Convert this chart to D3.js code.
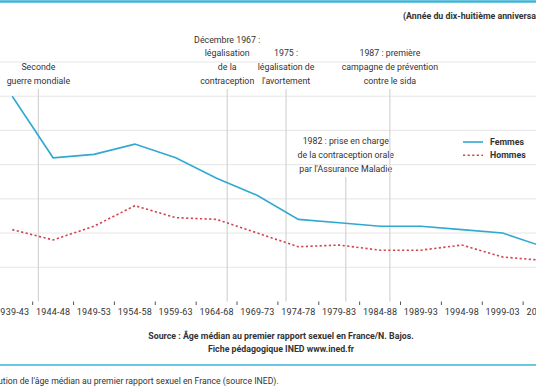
<!DOCTYPE html>
<html>
<head>
<meta charset="utf-8">
<script src="https://cdn.jsdelivr.net/npm/d3@7"></script>
<style>
  body { margin: 0; background: #fff; }
  svg { display: block; font-family: Roboto, "Noto Sans", sans-serif; }
</style>
</head>
<body>
<div id="chart"></div>
<script>
// Age median at first intercourse, France (INED)
// ==============================================
var periods = ["1939-43", "1944-48", "1949-53", "1954-58", "1959-63", "1964-68", "1969-73",
               "1974-78", "1979-83", "1984-88", "1989-93", "1994-98", "1999-03", "2004-08"];
var femmes = [22.0, 20.2, 20.3, 20.6, 20.2, 19.6, 19.1, 18.4, 18.3, 18.2, 18.2, 18.1, 18.0, 17.6];
var hommes = [18.1, 17.8, 18.2, 18.8, 18.45, 18.4, 18.0, 17.6, 17.65, 17.5, 17.5, 17.65, 17.3, 17.2];
var ageTicks = [16, 17, 18, 19, 20, 21, 22, 23];

// events: year (of 18th birthday) + label lines
var eventYears = [1944.2, 1967.3, 1974.5, 1981.8, 1987.2];
var eventLabels = [
  ["Seconde", "guerre mondiale"],
  ["Décembre 1967 :", "légalisation", "de la", "contraception"],
  ["1975 :", "légalisation de", "l'avortement"],
  ["1982 : prise en charge", "de la contraception orale", "par l'Assurance Maladie"],
  ["1987 : première", "campagne de prévention", "contre le sida"]
];
var eventLastLine = [81, 81, 81, 169, 81];

var width = 536, height = 386;
var blue = "#2fa9d2", red = "#d0434f", ink = "#333";

var svg = d3.select("#chart").append("svg")
    .attr("width", width)
    .attr("height", height);

// Scales
var x = d3.scaleBand().domain(periods).range([-8.2, 564]);
var xc = function(p) { return x(p) + x.bandwidth() / 2; };
var xYear = d3.scaleLinear()
    .domain([1941, 1946])
    .range([xc("1939-43"), xc("1944-48")]);
var y = d3.scaleLinear().domain([16, 23]).range([301.5, 62]);

// top & bottom cyan rules
svg.append("line").attr("x1", 0).attr("x2", width).attr("y1", 1.5).attr("y2", 1.5)
    .attr("stroke", "#3db5da").attr("stroke-width", 2.5);
svg.append("line").attr("x1", 0).attr("x2", width).attr("y1", 365).attr("y2", 365)
    .attr("stroke", "#3db5da").attr("stroke-width", 1.5);

// Gridlines
svg.append("g").selectAll("line")
    .data(ageTicks.filter(function(d) { return d > 16; }))
    .join("line")
    .attr("x1", 0).attr("x2", width)
    .attr("y1", function(d) { return y(d); })
    .attr("y2", function(d) { return y(d); })
    .attr("stroke", "#e6e6e6").attr("stroke-width", 1);

// X axis (ticks between bands, no domain line)
var xAxis = svg.append("g")
    .attr("transform", "translate(0," + y(16) + ")")
    .call(d3.axisBottom(x).tickSize(0).tickPadding(7));
xAxis.select(".domain").remove();
xAxis.selectAll("text").attr("font-size", 9).attr("fill", ink)
    .attr("font-family", "Roboto, sans-serif").attr("letter-spacing", 0.2);
svg.append("g").selectAll("line")
    .data(periods.slice(1))
    .join("line")
    .attr("x1", function(d) { return x(d); })
    .attr("x2", function(d) { return x(d); })
    .attr("y1", y(16)).attr("y2", y(16) + 3.5)
    .attr("stroke", "#555").attr("stroke-width", 1);

// Event markers
eventYears.forEach(function(yr, i) {
    var ex = xYear(yr);
    var last = eventLastLine[i];
    svg.append("line")
        .attr("x1", ex).attr("x2", ex)
        .attr("y1", last + 8).attr("y2", y(16))
        .attr("stroke", "#d4d4d4").attr("stroke-width", 1.2);
    var lines = eventLabels[i];
    svg.append("g").selectAll("text")
        .data(lines)
        .join("text")
        .attr("x", ex)
        .attr("y", function(d, j) { return last - (lines.length - 1 - j) * 13.8 + 3; })
        .attr("text-anchor", "middle")
        .attr("font-size", 8.8)
        .attr("fill", ink)
        .text(function(d) { return d; });
});

// Lines
var line = d3.line()
    .x(function(d, i) { return xc(periods[i]); })
    .y(function(d) { return y(d); });

svg.append("path").datum(femmes)
    .attr("d", line)
    .attr("fill", "none").attr("stroke", blue).attr("stroke-width", 1.6);
svg.append("path").datum(hommes)
    .attr("d", line)
    .attr("fill", "none").attr("stroke", red).attr("stroke-width", 1.6)
    .attr("stroke-dasharray", "2.2,2.4");

// Legend
var legend = [["Femmes", blue, null], ["Hommes", red, "2.2,2.4"]];
legend.forEach(function(l, i) {
    var ly = 142 + i * 13.3;
    svg.append("line").attr("x1", 463).attr("x2", 483).attr("y1", ly).attr("y2", ly)
        .attr("stroke", l[1]).attr("stroke-width", 1.6)
        .attr("stroke-dasharray", l[2]);
    svg.append("text").attr("x", 490).attr("y", ly + 3)
        .attr("font-size", 8.8).attr("font-weight", "bold").attr("fill", ink)
        .text(l[0]);
});

// Subtitle, source and caption
svg.append("text").attr("x", 403).attr("y", 19)
    .attr("font-size", 8.8).attr("font-weight", "bold").attr("fill", ink)
    .text("(Année du dix-huitième anniversaire)");

svg.append("text").attr("x", 281).attr("y", 339)
    .attr("text-anchor", "middle")
    .attr("font-size", 8.8).attr("font-weight", "bold").attr("fill", ink)
    .text("Source : Âge médian au premier rapport sexuel en France/N. Bajos.");
svg.append("text").attr("x", 281).attr("y", 352)
    .attr("text-anchor", "middle")
    .attr("font-size", 8.8).attr("font-weight", "bold").attr("fill", ink)
    .text("Fiche pédagogique INED www.ined.fr");

svg.append("text").attr("x", -18).attr("y", 384)
    .attr("font-size", 8.7).attr("fill", ink)
    .text("Évolution de l'âge médian au premier rapport sexuel en France (source INED).");
</script>
</body>
</html>
